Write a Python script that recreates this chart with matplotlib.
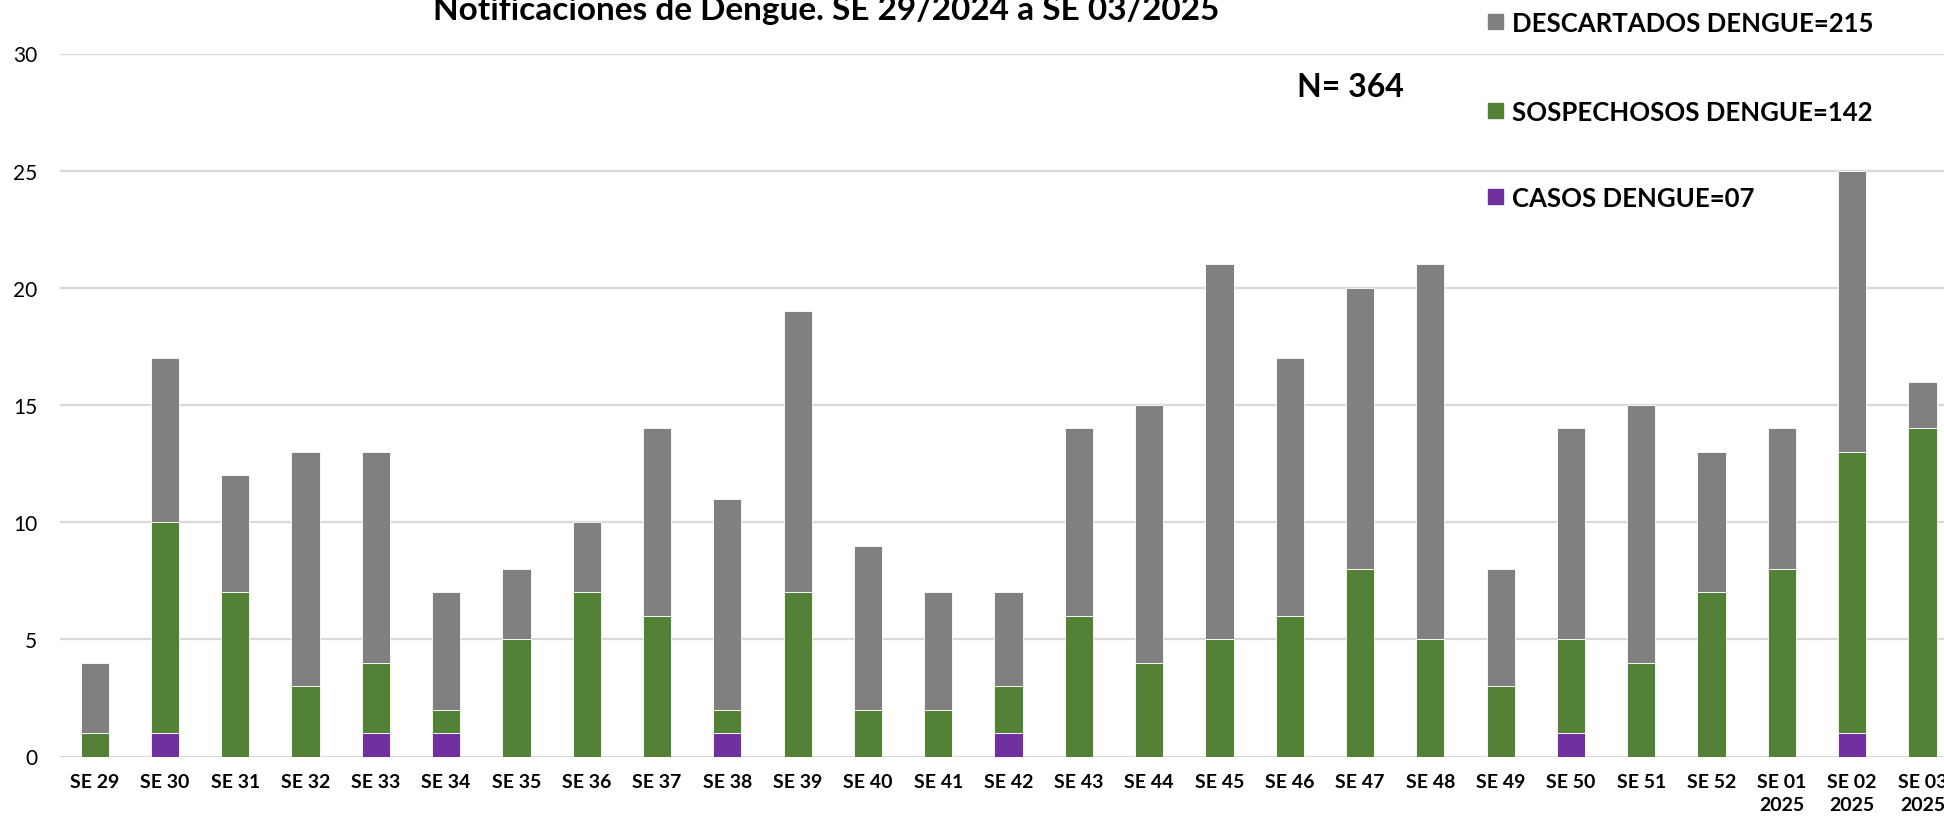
import numpy as np
import matplotlib
matplotlib.use("Agg")
import matplotlib.pyplot as plt
from matplotlib.patches import Rectangle

semanas = ["SE 29", "SE 30", "SE 31", "SE 32", "SE 33", "SE 34", "SE 35",
           "SE 36", "SE 37", "SE 38", "SE 39", "SE 40", "SE 41", "SE 42",
           "SE 43", "SE 44", "SE 45", "SE 46", "SE 47", "SE 48", "SE 49",
           "SE 50", "SE 51", "SE 52", "SE 01\n2025", "SE 02\n2025", "SE 03\n2025"]

casos = [0, 1, 0, 0, 1, 1, 0, 0, 0, 1, 0, 0, 0, 1,
         0, 0, 0, 0, 0, 0, 0, 1, 0, 0, 0, 1, 0]
sospechosos = [1, 9, 7, 3, 3, 1, 5, 7, 6, 1, 7, 2, 2, 2,
               6, 4, 5, 6, 8, 5, 3, 4, 4, 7, 8, 12, 14]
descartados = [3, 7, 5, 10, 9, 5, 3, 3, 8, 9, 12, 7, 5, 4,
               8, 11, 16, 11, 12, 16, 5, 9, 11, 6, 6, 12, 2]

etiquetas = ["DESCARTADOS DENGUE=215", "SOSPECHOSOS DENGUE=142", "CASOS DENGUE=07"]
titulo = "Notificaciones de Dengue. SE 29/2024 a SE 03/2025"

c_casos = "#7030A0"
c_sosp = "#538135"
c_desc = "#808080"

plt.rcParams["font.family"] = ["Lato", "DejaVu Sans"]

W, H = 1944, 820
fig = plt.figure(figsize=(W / 100, H / 100), dpi=100)
# el grafico original esta recortado a la derecha
ax = fig.add_axes([59.5 / W, 1 - 757.5 / H, 27 * 70.3 / W, 703 / H])

x = np.arange(len(semanas))
casos = np.array(casos)
sospechosos = np.array(sospechosos)
descartados = np.array(descartados)

ancho = 0.4
ax.bar(x, casos, ancho, color=c_casos, edgecolor="white", linewidth=0.6, zorder=3)
ax.bar(x, sospechosos, ancho, bottom=casos, color=c_sosp, edgecolor="white",
       linewidth=0.6, zorder=3)
ax.bar(x, descartados, ancho, bottom=casos + sospechosos, color=c_desc,
       edgecolor="white", linewidth=0.6, zorder=3)

ax.set_xlim(-0.5, len(semanas) - 0.5)
ax.set_ylim(0, 30)
ax.set_yticks(range(0, 31, 5))
ax.set_xticks(x)
ax.set_xticklabels(semanas, fontsize=14, fontweight="bold", linespacing=1.45)
ax.tick_params(axis="y", labelsize=15, length=0, pad=16)
ax.tick_params(axis="x", length=0, pad=12)
ax.grid(axis="y", color="#D9D9D9", linewidth=1.6, zorder=0)
for s in ax.spines.values():
    s.set_visible(False)

fig.text(826 / W, 1 - 20 / H, titulo, ha="center", va="baseline",
         fontsize=24, fontweight="bold")
fig.text(1297 / W, 1 - 96.7 / H, "N= 364", ha="left", va="baseline",
         fontsize=23, fontweight="bold")

# leyenda a mano, con mucho espacio entre filas como en el original
colores = [c_desc, c_sosp, c_casos]
bases = [32.3, 120.7, 207.3]
for lab, col, b in zip(etiquetas, colores, bases):
    fig.patches.append(Rectangle((1488 / W, 1 - (b - 2) / H), 15 / W, 15 / H,
                                 transform=fig.transFigure, color=col))
    fig.text(1512 / W, 1 - b / H, lab, ha="left", va="baseline",
             fontsize=18.5, fontweight="bold")

fig.savefig("out.png", dpi=100)
